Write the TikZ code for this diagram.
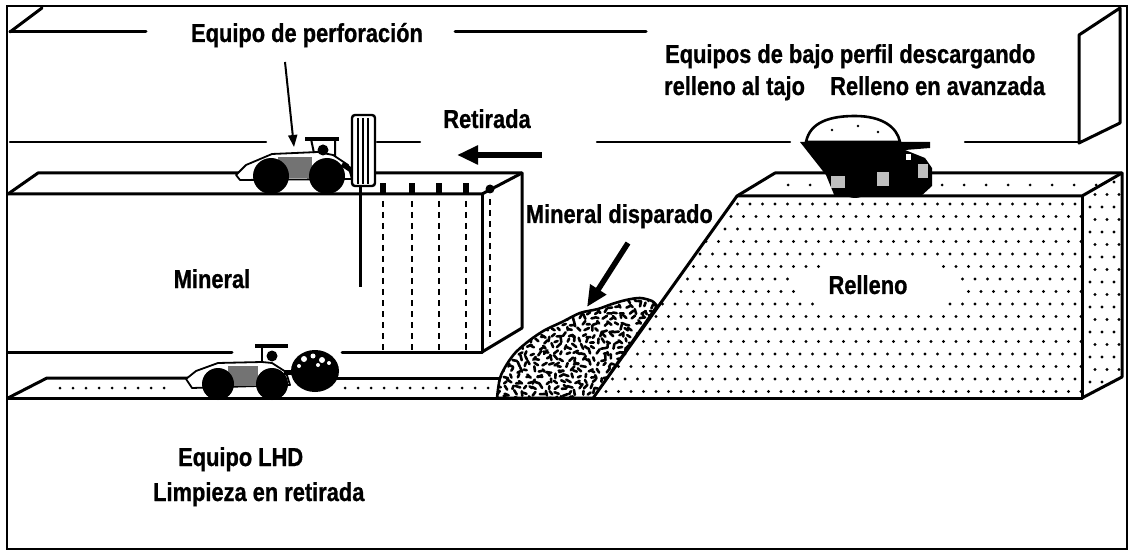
\documentclass[tikz,border=0pt]{standalone}
\usepackage{fontspec}
\newfontfamily\labelfont{Liberation Sans}[FakeStretch=0.84, FakeBold=0.8]
\usetikzlibrary{arrows.meta}
\tikzset{
  edge/.style={line width=3pt, line join=round, line cap=round},
  backline/.style={line width=2.2pt, line cap=round},
  outline/.style={line width=1.8pt, line join=round},
  lbl/.style={font=\labelfont\bfseries\fontsize{26}{30}\selectfont, inner sep=0pt},
  wheel/.style={fill=black},
  grain/.style={fill=black!55},
  lightgrain/.style={fill=black!25},
  hole/.style={line width=2.6pt, dash pattern=on 6pt off 5pt},
  bigarrow/.style={line width=5.5pt, -{Triangle[length=21pt,width=18pt]}},
  smallarrow/.style={line width=2pt, -{Triangle[length=12pt,width=9pt]}},
}
\newcommand\pileshape{plot[smooth] coordinates {(497,398) (500,378) (507,364) (516,352) (530,340) (545,330) (562,322) (580,313) (598,309) (612,304) (626,300) (640,298) (652,301) (657,306)} -- (593,398) -- cycle}
\begin{document}
\begin{tikzpicture}[x=1pt,y=-1pt]
\useasboundingbox (0,0) rectangle (1132,553);
\fill[white] (0,0) rectangle (1132,553);

% outer frame
\draw[line width=2pt] (7,6) rectangle (1127,549);

% roof of the stope
\draw[edge] (10,32) -- (42,8);
\draw[edge] (10,32) -- (146,32);
\draw[edge] (455,32) -- (646,32);

% back wall of the upper level
\draw[backline] (10,142) -- (266,142);
\draw[backline] (377,142) -- (420,142);
\draw[backline] (597,142) -- (790,142);
\draw[backline] (965,142) -- (1079,142);

% end wall panel
\draw[edge] (1079,35) -- (1120,8) -- (1120,123) -- (1079,143) -- cycle;

% ore block
\draw[edge] (8,194) -- (38,173) -- (522,173) -- (522,328) -- (482,352);
\draw[edge] (8,194) -- (482,194) -- (522,173);
\draw[edge] (482,194) -- (482,352) -- (342,352);
\draw[edge] (8,352) -- (232,352);

% drill holes
\foreach \hx in {383,412,439,466} {
  \draw[hole] (\hx,201) -- (\hx,350);
  \fill ({\hx-3},183) rectangle ({\hx+3},195);
}
\draw[hole] (490,199) -- (490,342);
\fill (490,189) circle (4.5pt);

% haulage floor
\draw[edge] (8,398) -- (47,378) -- (190,378);
\draw[edge] (335,378) -- (500,378);
\draw[edge] (8,398) -- (1082,398);
\foreach \fx in {60,73,...,175} \fill (\fx,388) circle (1.5pt);
\foreach \fx in {345,358,...,490} \fill (\fx,388) circle (1.5pt);

% backfill block: dotted faces
\begin{scope}
  \clip (593,398) -- (737,196) -- (1082,196) -- (1082,398) -- cycle;
  \foreach \r in {0,...,15} {
    \foreach \c in {0,...,40} {
      \pgfmathsetmacro\px{600+\c*12.5+mod(\r,2)*6}
      \pgfmathsetmacro\py{204+\r*12.5}
      \pgfmathtruncatemacro\keepdot{((\px-880)/84)*((\px-880)/84)+((\py-285)/27)*((\py-285)/27)>1}
      \ifnum\keepdot=1 \fill (\px,\py) circle (1.6pt); \fi
    }
  }
\end{scope}
\begin{scope}
  \clip (1082,196) -- (1122,173) -- (1122,377) -- (1082,398) -- cycle;
  \foreach \r in {0,...,17} {
    \foreach \c in {0,1,2} {
      \pgfmathsetmacro\px{1090+\c*12+mod(\r,2)*5}
      \pgfmathsetmacro\py{182+\r*12.5}
      \fill (\px,\py) circle (1.6pt);
    }
  }
\end{scope}
\foreach \tx in {788,810,...,1110} \fill (\tx,185) circle (1.5pt);
\draw[edge] (593,398) -- (737,196) -- (775,173) -- (1122,173) -- (1122,377) -- (1082,398);
\draw[edge] (737,196) -- (1082,196) -- (1122,173);
\draw[edge] (1082,196) -- (1082,398);

% blasted ore pile: rubble of short irregular strokes
\fill[white] \pileshape;
\begin{scope}
  \clip \pileshape;
  \pgfmathsetseed{4711}
  \foreach \i in {0,...,27} {
    \foreach \j in {0,...,19} {
      \pgfmathsetmacro\px{495+\i*6+mod(\j,2)*3+rand*1.5}
      \pgfmathsetmacro\py{296+\j*5.8+rand*1.5}
      \pgfmathsetmacro\ang{rnd*180}
      \pgfmathsetmacro\len{3+rnd*2.5}
      \draw[line width=2.6pt, line cap=round] (\px,\py) -- ++(\ang:\len pt);
    }
  }
\end{scope}
\draw[line width=2.6pt, line join=round] \pileshape;

% drilling rig
\filldraw[fill=white, outline] (236,175) -- (246,165) -- (272,154) -- (318,152) -- (333,155) -- (348,165) -- (352,179) -- (240,180) -- cycle;
\fill[grain] (278,157) rectangle (312,178);
\draw[line width=3.6pt] (305,139) -- (339,139);
\draw[line width=2pt] (311,139) -- (314,153) (335,139) -- (335,156);
\fill (323,150) circle (5.5pt);
\fill[wheel] (271,176) circle (18pt);
\fill[wheel] (327,176) circle (18pt);
\draw[line width=5pt] (342,164) -- (354,172);
\filldraw[fill=white, line width=2.4pt, rounded corners=3pt] (352,115) rectangle (375,186);
\draw[line width=1.6pt] (358,118) -- (358,184) (363,118) -- (363,184) (368,118) -- (368,184);
\draw[line width=3pt] (360,186) -- (360,287);

% load-haul-dump unit
\filldraw[fill=white, outline] (186,379) -- (196,371) -- (218,363) -- (262,362) -- (272,363) -- (286,372) -- (290,385) -- (192,388) -- cycle;
\fill[grain] (228,366) rectangle (258,386);
\draw[line width=3.6pt] (255,346) -- (288,346);
\draw[line width=2pt] (262,346) -- (262,362);
\fill (272,356) circle (5.5pt);
\fill[wheel] (218,384) circle (16pt);
\fill[wheel] (272,384) circle (16pt);
\draw[line width=5pt] (284,372) -- (296,372);
\fill (315,371) ellipse (24pt and 21pt);
\fill[white] (304,359) circle (3pt) (313,356) circle (2.5pt) (322,360) circle (3pt) (299,366) circle (2pt) (318,365) circle (2pt) (329,363) circle (2pt);

% low-profile dump truck
\filldraw[fill=white, line width=2.6pt] (806,142) .. controls (810,122) and (830,116) .. (855,116) .. controls (882,116) and (897,127) .. (900,142) -- cycle;
\fill (832,130) circle (1.4pt) (858,126) circle (1.4pt) (878,132) circle (1.4pt);
\fill (800,142) -- (930,142) -- (930,148) -- (905,150) -- (925,158) -- (932,168) -- (932,186) -- (920,197) -- (835,197) -- (826,175) -- cycle;
\fill[wheel] (855,181) circle (17pt);
\fill[wheel] (912,179) circle (18pt);
\fill[lightgrain] (831,176) rectangle (845,188);
\fill[lightgrain] (877,172) rectangle (889,186);
\fill[lightgrain] (918,164) rectangle (928,178);
\fill[white] (906,154) rectangle (911,160);

% labels
\node[lbl, anchor=base] (perf) at (307,42) {Equipo de perforación};
\node[lbl, anchor=base west] (bajoa) at (665,63) {Equipos de bajo perfil descargando};
\node[lbl, anchor=base west] (bajob) at (664,95) {relleno al tajo};
\node[lbl, anchor=base west] (avanz) at (830,95) {Relleno en avanzada};
\node[lbl, anchor=base] (retir) at (487,128) {Retirada};
\node[lbl, anchor=base] (miner) at (212,288) {Mineral};
\node[lbl, anchor=base east] (dispa) at (713,223) {Mineral disparado};
\node[lbl, anchor=base] (relle) at (868,294) {Relleno};
\node[lbl, anchor=base west] (lhda) at (178,466) {Equipo LHD};
\node[lbl, anchor=base west] (lhdb) at (153,501) {Limpieza en retirada};

% arrows
\coordinate (drillfrom) at (285,62);
\coordinate (drillto) at (294,147);
\draw[smallarrow] (drillfrom) -- (drillto);
\coordinate (retfrom) at (542,155);
\coordinate (retto) at (457,155);
\draw[bigarrow] (retfrom) -- (retto);
\coordinate (pilefrom) at (628,243);
\coordinate (pileto) at (587,307);
\draw[bigarrow] (pilefrom) -- (pileto);
\end{tikzpicture}
\end{document}
